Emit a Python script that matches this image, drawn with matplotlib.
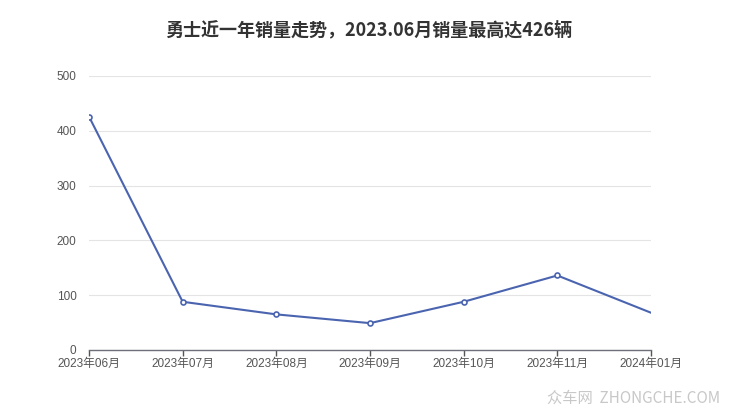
import matplotlib
matplotlib.use("Agg")
import matplotlib.pyplot as plt

plt.rcParams['font.family'] = ['Noto Sans CJK SC', 'DejaVu Sans']

title = "勇士近一年销量走势，2023.06月销量最高达426辆"
months = ["2023年06月", "2023年07月", "2023年08月", "2023年09月", "2023年10月", "2023年11月", "2024年01月"]
sales = [426, 88, 65, 49, 88, 136, 68]
yticks = [0, 100, 200, 300, 400, 500]

fig = plt.figure(figsize=(7.4, 4.17), dpi=100)
ax = fig.add_axes([89/740, 1-350/417, (651-89)/740, (350-76)/417])

x = list(range(len(months)))
color = "#4a64b0"
ax.plot(x, sales, color=color, lw=1.5, zorder=3)
ax.plot(x[:-1], sales[:-1], ls='none', marker='o', ms=3.6, mfc='white', mec=color, mew=1.2, zorder=4)

ax.set_xlim(0, len(months) - 1)
ax.set_ylim(0, 500)
ax.set_xticks(x)
ax.set_xticklabels(months, family=['Liberation Sans', 'Noto Sans CJK SC'])
ax.set_yticks(yticks)
ax.set_yticklabels([str(v) for v in yticks], family=['Liberation Sans'])
ax.grid(axis='y', color='#E4E4E4', lw=0.8)
ax.set_axisbelow(True)
for s in ['top', 'right', 'left']:
    ax.spines[s].set_visible(False)
ax.spines['bottom'].set_color('#6E7079')
ax.spines['bottom'].set_linewidth(1)
ax.tick_params(axis='x', colors='#555555', labelsize=8.5, length=4, width=1, pad=2)
ax.tick_params(axis='y', colors='#555555', labelsize=8.5, length=0, pad=9)

fig.text(0.5, 1-30/417, title, ha='center', va='center', fontsize=13, fontweight='bold', color='#333333')
fig.text(720/740, 1-398/417, "众车网  ZHONGCHE.COM", ha='right', va='center', fontsize=11, color='#c8c8c8')

fig.savefig("out.png", dpi=100)
